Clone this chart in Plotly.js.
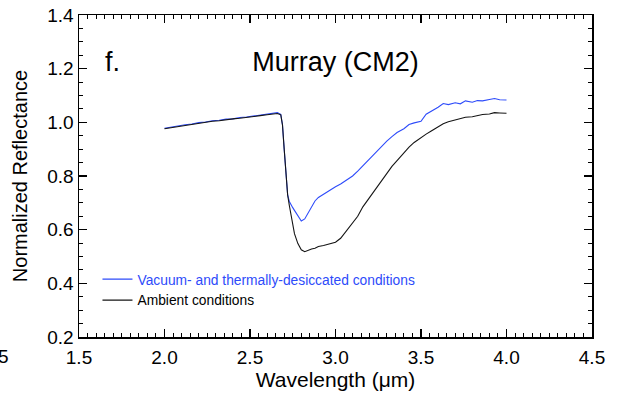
<!DOCTYPE html>
<html>
<head>
<meta charset="utf-8">
<script src="https://cdn.plot.ly/plotly-3.0.1.min.js"></script>
<style>html,body{margin:0;padding:0;background:#fff;}#chart{width:617px;height:403px;}</style>
</head>
<body>
<div id="chart"></div>
<script>
var wavelength = [2.00,2.04,2.08,2.12,2.16,2.20,2.24,2.28,2.32,2.36,2.40,2.44,2.48,2.52,2.56,2.60,2.63,2.66,2.68,2.69,2.70,2.71,2.72,2.73,2.74,2.75,2.76,2.78,2.80,2.82,2.84,2.86,2.88,2.90,2.93,2.96,3.00,3.03,3.06,3.10,3.13,3.16,3.20,3.23,3.26,3.30,3.33,3.36,3.40,3.43,3.46,3.50,3.53,3.56,3.60,3.63,3.66,3.70,3.73,3.76,3.80,3.83,3.86,3.90,3.93,3.96,4.00];
var vacuum = [0.978,0.983,0.986,0.991,0.994,0.999,1.001,1.006,1.008,1.012,1.013,1.018,1.020,1.023,1.027,1.030,1.034,1.036,1.030,0.990,0.900,0.800,0.730,0.705,0.690,0.682,0.672,0.650,0.632,0.640,0.663,0.688,0.707,0.720,0.733,0.744,0.760,0.770,0.783,0.800,0.818,0.838,0.866,0.884,0.905,0.930,0.947,0.962,0.976,0.992,0.998,1.004,1.030,1.040,1.056,1.070,1.066,1.073,1.069,1.080,1.075,1.081,1.080,1.085,1.089,1.084,1.083];
var ambient = [0.976,0.980,0.985,0.988,0.993,0.997,1.000,1.004,1.006,1.010,1.013,1.015,1.019,1.021,1.025,1.028,1.031,1.033,1.028,0.990,0.900,0.800,0.730,0.690,0.650,0.612,0.585,0.548,0.525,0.518,0.524,0.528,0.531,0.537,0.541,0.545,0.553,0.568,0.593,0.622,0.650,0.685,0.720,0.747,0.776,0.810,0.836,0.857,0.886,0.908,0.925,0.944,0.956,0.968,0.984,0.995,1.002,1.009,1.014,1.019,1.021,1.025,1.029,1.031,1.036,1.035,1.034];
var seriesNames = ['Vacuum- and thermally-desiccated conditions', 'Ambient conditions'];
var xTicks = [1.5,2.0,2.5,3.0,3.5,4.0,4.5];
var xTickText = ['1.5','2.0','2.5','3.0','3.5','4.0','4.5'];
var yTicks = [0.2,0.4,0.6,0.8,1.0,1.2,1.4];
var yTickText = ['0.2','0.4','0.6','0.8','1.0','1.2','1.4'];

var blue = 'rgb(45,75,250)';
var traces = [
  {x: wavelength, y: vacuum, type: 'scatter', mode: 'lines', name: '<span style="color:' + blue + '">' + seriesNames[0] + '</span>', line: {color: blue, width: 1.1}},
  {x: wavelength, y: ambient, type: 'scatter', mode: 'lines', name: seriesNames[1], line: {color: 'rgb(20,20,20)', width: 1.1}},
  {x: [xTicks[0]], y: [yTicks[0]], xaxis: 'x2', yaxis: 'y2', type: 'scatter', mode: 'markers', marker: {opacity: 0}, showlegend: false, hoverinfo: 'skip'}
];
var fontFam = 'Liberation Sans, Arial, Helvetica, sans-serif';
function axisBase(ticks) {
  return {
    showgrid: false, zeroline: false, showline: true, linecolor: '#000', linewidth: 1.5,
    ticks: 'inside', ticklen: 8, tickwidth: 1.3, tickcolor: '#000',
    tickmode: 'linear', tick0: ticks[0], dtick: ticks[1] - ticks[0], tickformat: '.1f',
    tickfont: {family: fontFam, size: 19, color: '#000'},
    minor: {tickmode: 'linear', tick0: ticks[0], dtick: (ticks[1] - ticks[0]) / (ticks[1] - ticks[0] > 0.3 ? 10 : 4), ticks: 'inside', ticklen: 4, tickwidth: 1, tickcolor: '#000', showgrid: false}
  };
}
var layout = {
  width: 617, height: 403,
  margin: {l: 79, r: 25, t: 15, b: 66},
  paper_bgcolor: '#fff', plot_bgcolor: '#fff',
  font: {family: fontFam, color: '#000'},
  title: {text: 'Murray (CM2)', font: {family: fontFam, size: 27, color: '#000'}, x: 0.5, xref: 'paper', y: 1 - 62/403, yref: 'container', yanchor: 'middle'},
  xaxis: Object.assign(axisBase(xTicks), {
    range: [xTicks[0], xTicks[xTicks.length - 1]], ticklabelstandoff: 3,
    title: {text: 'Wavelength (μm)', font: {family: fontFam, size: 21, color: '#000'}, standoff: 4}
  }),
  yaxis: Object.assign(axisBase(yTicks), {
    range: [yTicks[0], yTicks[yTicks.length - 1]],
    title: {text: 'Normalized Reflectance', font: {family: fontFam, size: 20, color: '#000'}, standoff: 14}
  }),
  xaxis2: Object.assign(axisBase(xTicks), {
    range: [xTicks[0], xTicks[xTicks.length - 1]], overlaying: 'x', side: 'top', anchor: 'y2', showticklabels: false
  }),
  yaxis2: Object.assign(axisBase(yTicks), {
    range: [yTicks[0], yTicks[yTicks.length - 1]], overlaying: 'y', side: 'right', anchor: 'x2', showticklabels: false
  }),
  showlegend: true,
  legend: {x: 0.036, y: 0.147, xanchor: 'left', yanchor: 'middle', bgcolor: 'rgba(0,0,0,0)', font: {family: fontFam, size: 13.8, color: '#000'}, itemwidth: 30},
  annotations: [
    {text: 'f.', xref: 'paper', yref: 'paper', x: (112-79)/513, y: 1 - (62-15)/322, xanchor: 'center', yanchor: 'middle', showarrow: false, font: {family: fontFam, size: 27, color: '#000'}},
    {text: '5', xref: 'paper', yref: 'paper', x: (3-79)/513, y: -(357-337)/322, xanchor: 'center', yanchor: 'middle', showarrow: false, font: {family: fontFam, size: 19, color: '#000'}}
  ]
};
Plotly.newPlot('chart', traces, layout, {displayModeBar: false, staticPlot: true});
</script>
</body>
</html>
